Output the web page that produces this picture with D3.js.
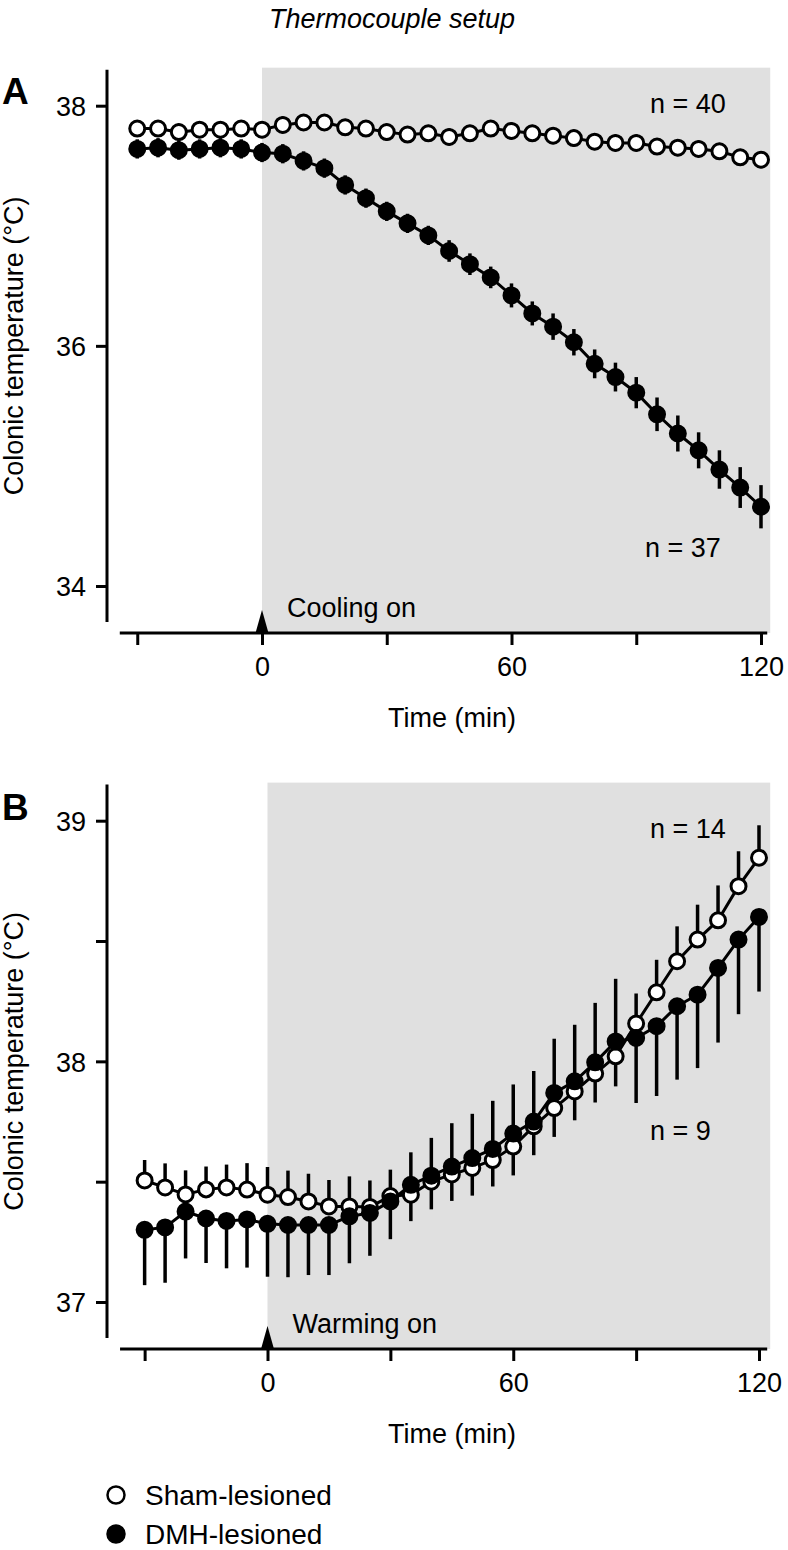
<html>
<head>
<style>
  body { margin: 0; background: #fff; }
  svg text { font-family: "Liberation Sans", Arial, sans-serif; fill: #000; }
</style>
<script src="https://cdn.jsdelivr.net/npm/d3@7/dist/d3.min.js"></script>
</head>
<body>
<script>
// time points (min), same for both panels
var times = [-30,-25,-20,-15,-10,-5,0,5,10,15,20,25,30,35,40,45,50,55,60,65,70,75,80,85,90,95,100,105,110,115,120];

// panel A - cooling
var coolSham    = [37.81,37.81,37.78,37.80,37.80,37.81,37.80,37.84,37.86,37.86,37.82,37.81,37.78,37.76,37.77,37.74,37.77,37.81,37.79,37.77,37.75,37.73,37.70,37.69,37.69,37.66,37.65,37.64,37.62,37.57,37.55];
var coolShamErr = [0.07,0.07,0.07,0.07,0.07,0.07,0.07,0.07,0.07,0.07,0.07,0.07,0.07,0.07,0.07,0.07,0.07,0.07,0.07,0.07,0.07,0.07,0.07,0.07,0.07,0.07,0.07,0.07,0.07,0.07,0.07];
var coolDmh     = [37.64,37.65,37.63,37.64,37.65,37.64,37.61,37.60,37.54,37.48,37.34,37.23,37.12,37.02,36.92,36.79,36.68,36.57,36.42,36.27,36.16,36.03,35.85,35.74,35.61,35.43,35.27,35.13,34.97,34.82,34.66];
var coolDmhErr  = [0.08,0.08,0.08,0.08,0.08,0.08,0.08,0.08,0.08,0.08,0.08,0.08,0.08,0.08,0.08,0.09,0.09,0.09,0.10,0.10,0.11,0.11,0.12,0.12,0.13,0.14,0.15,0.15,0.16,0.17,0.18];

// panel B - warming
var warmSham    = [37.505,37.476,37.447,37.468,37.476,37.467,37.446,37.436,37.418,37.397,37.397,37.395,37.44,37.446,37.50,37.53,37.557,37.59,37.646,37.73,37.806,37.875,37.949,38.021,38.157,38.287,38.416,38.506,38.586,38.728,38.846];
var warmShamErr = [0.085,0.10,0.10,0.095,0.095,0.11,0.115,0.11,0.115,0.11,0.125,0.11,0.11,0.11,0.115,0.11,0.115,0.11,0.12,0.12,0.12,0.12,0.12,0.125,0.125,0.135,0.145,0.145,0.145,0.145,0.135];
var warmDmh     = [37.30,37.31,37.376,37.347,37.337,37.343,37.325,37.32,37.32,37.32,37.356,37.37,37.418,37.487,37.525,37.563,37.598,37.636,37.70,37.75,37.869,37.917,37.996,38.083,38.097,38.146,38.229,38.277,38.388,38.506,38.60];
var warmDmhErr  = [0.23,0.23,0.195,0.185,0.197,0.2,0.22,0.217,0.208,0.208,0.195,0.178,0.157,0.135,0.157,0.18,0.184,0.2,0.204,0.21,0.225,0.235,0.247,0.26,0.27,0.29,0.305,0.305,0.31,0.31,0.31];

var xTicks = [-30,0,30,60,90,120];
var xTickLabels = [0,60,120];
var legendNames = ["Sham-lesioned","DMH-lesioned"];

var svg = d3.select("body").append("svg")
  .attr("width", 788)
  .attr("height", 1550);

svg.append("text")
  .attr("x", 392).attr("y", 28)
  .attr("text-anchor", "middle")
  .style("font-size", "27px")
  .style("font-style", "italic")
  .text("Thermocouple setup");

var drawPanel = function(p){
  var g = svg.append("g");
  var x = p.x, y = p.y;
  var xAxisY = p.xAxisY;

  // grey stimulus period
  g.append("rect")
    .attr("x", x(0))
    .attr("y", y(p.yExtent[1]) - 2)
    .attr("width", x(p.xExtent[1]) + 3 - x(0))
    .attr("height", xAxisY - y(p.yExtent[1]) + 2)
    .attr("fill", "#e0e0e0");

  // y axis
  var yAxis = d3.axisLeft(y)
    .tickValues(p.yTicks)
    .tickSize(11)
    .tickSizeOuter(0)
    .tickPadding(10)
    .tickFormat(function(d){ return p.yLabels.indexOf(d) >= 0 ? d : ""; });
  var ya = g.append("g")
    .attr("transform", "translate(" + p.yAxisX + ",0)")
    .call(yAxis);
  ya.select(".domain").remove();
  ya.selectAll(".tick line").attr("stroke-width", 3);
  ya.selectAll(".tick text").style("font-size", "27px").attr("dy", "0.36em");
  g.append("line")
    .attr("x1", p.yAxisX).attr("x2", p.yAxisX)
    .attr("y1", y(p.yExtent[1])).attr("y2", y(p.yExtent[0]))
    .attr("stroke", "#000").attr("stroke-width", 3);

  // x axis
  var xAxis = d3.axisBottom(x)
    .tickValues(xTicks)
    .tickSize(12)
    .tickSizeOuter(0)
    .tickPadding(12)
    .tickFormat(function(d){ return xTickLabels.indexOf(d) >= 0 ? d : ""; });
  var xa = g.append("g")
    .attr("transform", "translate(0," + xAxisY + ")")
    .call(xAxis);
  xa.select(".domain").remove();
  xa.selectAll(".tick line").attr("stroke-width", 3);
  xa.selectAll(".tick text").style("font-size", "27px");
  g.append("line")
    .attr("x1", x(p.xExtent[0])).attr("x2", x(p.xExtent[1]))
    .attr("y1", xAxisY).attr("y2", xAxisY)
    .attr("stroke", "#000").attr("stroke-width", 3);

  // arrow at time 0
  g.append("path")
    .attr("d", "M" + (x(0) - 6.5) + "," + xAxisY + "L" + x(0) + "," + (xAxisY - 23) + "L" + (x(0) + 6.5) + "," + xAxisY + "Z")
    .attr("fill", "#000");

  g.append("text")
    .attr("x", x(0) + 25).attr("y", xAxisY - 16)
    .style("font-size", "27px")
    .text(p.onLabel);

  g.append("text")
    .attr("x", 452).attr("y", xAxisY + 94)
    .attr("text-anchor", "middle")
    .style("font-size", "27px")
    .text("Time (min)");

  g.append("text")
    .attr("transform", "translate(23," + ((y(p.yExtent[0]) + y(p.yExtent[1])) / 2) + ") rotate(-90)")
    .attr("text-anchor", "middle")
    .style("font-size", "27px")
    .text("Colonic temperature (\u00B0C)");

  g.append("text")
    .attr("x", 2).attr("y", p.letterY)
    .style("font-size", "37px")
    .style("font-weight", "bold")
    .text(p.letter);

  // series
  var series = [
    {vals: p.sham, err: p.shamErr, other: p.dmh, fill: "#fff"},
    {vals: p.dmh, err: p.dmhErr, other: p.sham, fill: "#000"}
  ];

  series.forEach(function(s){
    g.selectAll(null)
      .data(times)
      .enter()
      .append("line")
      .attr("x1", function(t){ return x(t); })
      .attr("x2", function(t){ return x(t); })
      .attr("y1", function(t,i){
        if (p.errMode == "both") return y(s.vals[i] + s.err[i]);
        return y(s.vals[i]);
      })
      .attr("y2", function(t,i){
        if (p.errMode == "both") return y(s.vals[i] - s.err[i]);
        var up = s.vals[i] >= s.other[i];
        return y(up ? s.vals[i] + s.err[i] : s.vals[i] - s.err[i]);
      })
      .attr("stroke", "#000")
      .attr("stroke-width", 3.5);
  });

  var line = d3.line()
    .x(function(d){ return x(d[0]); })
    .y(function(d){ return y(d[1]); });

  series.forEach(function(s){
    g.append("path")
      .datum(times.map(function(t,i){ return [t, s.vals[i]]; }))
      .attr("d", line)
      .attr("fill", "none")
      .attr("stroke", "#000")
      .attr("stroke-width", 3);

    g.selectAll(null)
      .data(times)
      .enter()
      .append("circle")
      .attr("cx", function(t){ return x(t); })
      .attr("cy", function(t,i){ return y(s.vals[i]); })
      .attr("r", 7.5)
      .attr("fill", s.fill)
      .attr("stroke", "#000")
      .attr("stroke-width", 3);
  });

  p.nLabels.forEach(function(n){
    g.append("text")
      .attr("x", n.x).attr("y", n.y)
      .style("font-size", "27px")
      .text(n.text);
  });
};

drawPanel({
  letter: "A", letterY: 104,
  x: d3.scaleLinear().domain([0,120]).range([262,761]),
  y: d3.scaleLinear().domain([34,38]).range([586,105.7]),
  xExtent: [-34.2,121.5], yExtent: [33.7,38.3],
  yAxisX: 107, xAxisY: 633,
  yTicks: [34,36,38], yLabels: [34,36,38],
  sham: coolSham, shamErr: coolShamErr, dmh: coolDmh, dmhErr: coolDmhErr,
  errMode: "both",
  onLabel: "Cooling on",
  nLabels: [{text: "n = 40", x: 650, y: 113}, {text: "n = 37", x: 645, y: 557}]
});

drawPanel({
  letter: "B", letterY: 820,
  x: d3.scaleLinear().domain([0,120]).range([267.5,759]),
  y: d3.scaleLinear().domain([37,39]).range([1302,820.7]),
  xExtent: [-36,122], yExtent: [36.85,39.15],
  yAxisX: 107, xAxisY: 1349,
  yTicks: [37,37.5,38,38.5,39], yLabels: [37,38,39],
  sham: warmSham, shamErr: warmShamErr, dmh: warmDmh, dmhErr: warmDmhErr,
  errMode: "away",
  onLabel: "Warming on",
  nLabels: [{text: "n = 14", x: 650, y: 838}, {text: "n = 9", x: 650, y: 1140}]
});

// legend
var legend = svg.append("g");
legendNames.forEach(function(name,i){
  legend.append("circle")
    .attr("cx", 116).attr("cy", 1495 + i * 39)
    .attr("r", 8.5)
    .attr("fill", i == 0 ? "#fff" : "#000")
    .attr("stroke", "#000")
    .attr("stroke-width", 2.5);
  legend.append("text")
    .attr("x", 145).attr("y", 1505 + i * 39)
    .style("font-size", "28px")
    .text(name);
});
</script>
</body>
</html>
